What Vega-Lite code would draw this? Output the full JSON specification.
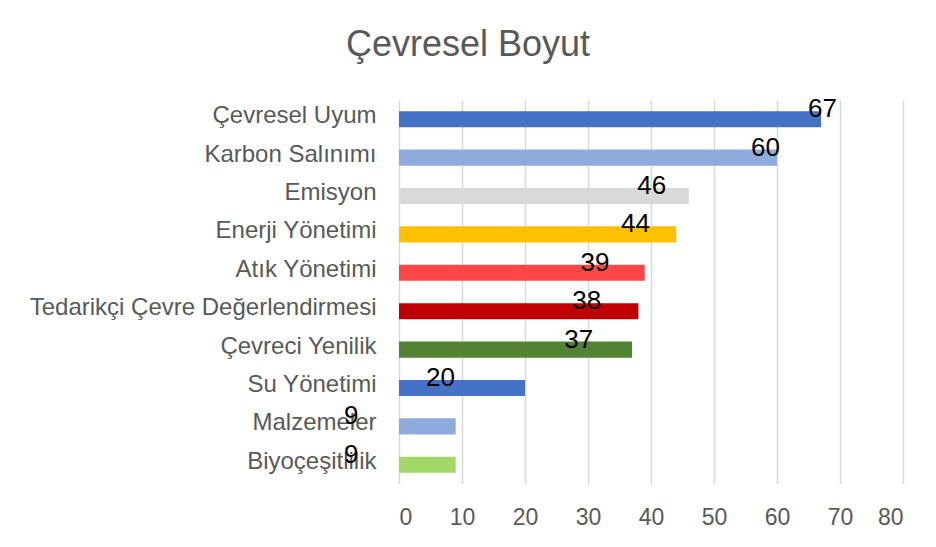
{
  "$schema": "https://vega.github.io/schema/vega-lite/v6.json",
  "width": 504,
  "height": 384,
  "autosize": {"type": "none"},
  "padding": {"left": 399, "top": 100, "right": 33, "bottom": 63},
  "background": "white",
  "title": {
    "text": "Çevresel Boyut",
    "fontSize": 36,
    "font": "Liberation Sans",
    "fontWeight": "normal",
    "color": "#595959",
    "anchor": "middle",
    "dx": -183,
    "offset": 32
  },
  "data": {
    "values": [
      {"kategori": "Çevresel Uyum", "deger": 67},
      {"kategori": "Karbon Salınımı", "deger": 60},
      {"kategori": "Emisyon", "deger": 46},
      {"kategori": "Enerji Yönetimi", "deger": 44},
      {"kategori": "Atık Yönetimi", "deger": 39},
      {"kategori": "Tedarikçi Çevre Değerlendirmesi", "deger": 38},
      {"kategori": "Çevreci Yenilik", "deger": 37},
      {"kategori": "Su Yönetimi", "deger": 20},
      {"kategori": "Malzemeler", "deger": 9},
      {"kategori": "Biyoçeşitlilik", "deger": 9}
    ]
  },
  "layer": [
    {
      "mark": {"type": "bar"},
      "encoding": {
        "y": {
          "field": "kategori",
          "type": "nominal",
          "sort": null,
          "scale": {"paddingInner": 0.58, "paddingOuter": 0.29},
          "axis": {
            "title": null,
            "domain": false,
            "ticks": false,
            "grid": false,
            "labelFont": "Liberation Sans",
            "labelFontSize": 24,
            "labelColor": "#595959",
            "labelPadding": 23,
            "labelLimit": 500,
            "labelOffset": -3
          }
        },
        "x": {
          "field": "deger",
          "type": "quantitative",
          "scale": {"domain": [0, 80]},
          "axis": {
            "title": null,
            "domain": false,
            "ticks": false,
            "grid": true,
            "gridColor": "#D9D9D9",
            "gridWidth": 1.5,
            "values": [0, 10, 20, 30, 40, 50, 60, 70, 80],
            "labelFont": "Liberation Sans",
            "labelFontSize": 23,
            "labelColor": "#595959",
            "labelPadding": 22
          }
        },
        "color": {
          "field": "kategori",
          "type": "nominal",
          "scale": {
            "domain": ["Çevresel Uyum", "Karbon Salınımı", "Emisyon", "Enerji Yönetimi", "Atık Yönetimi", "Tedarikçi Çevre Değerlendirmesi", "Çevreci Yenilik", "Su Yönetimi", "Malzemeler", "Biyoçeşitlilik"],
            "range": ["#4472C4", "#8FAADC", "#D9D9D9", "#FFC000", "#FF4747", "#C00000", "#548235", "#4472C4", "#8FAADC", "#A2D868"]
          },
          "legend": null
        }
      }
    },
    {
      "mark": {
        "type": "text",
        "font": "Liberation Sans",
        "fontSize": 26,
        "color": "#000000",
        "align": "center",
        "baseline": "middle",
        "dy": -10
      },
      "encoding": {
        "y": {"field": "kategori", "type": "nominal", "sort": null},
        "x": {
          "field": "deger",
          "type": "quantitative",
          "scale": {"domain": [0, 80], "range": [-121, 529]},
          "axis": null
        },
        "text": {"field": "deger", "type": "quantitative"}
      }
    }
  ],
  "resolve": {"scale": {"x": "independent"}},
  "config": {
    "view": {"stroke": null}
  }
}
